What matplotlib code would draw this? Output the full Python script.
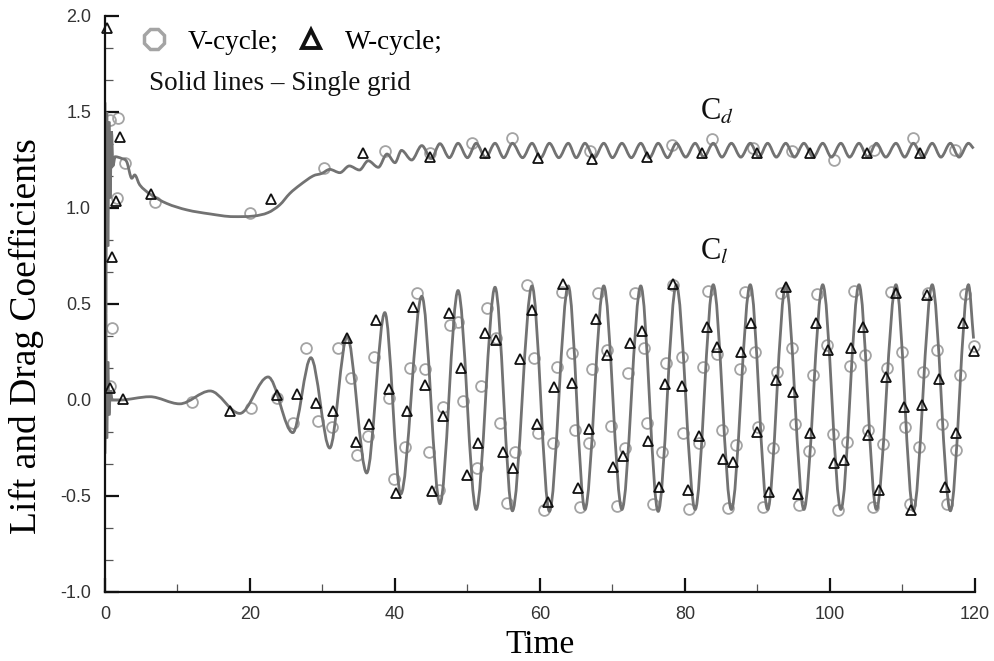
import numpy as np
import matplotlib
matplotlib.use('Agg')
import matplotlib.pyplot as plt
from matplotlib.path import Path
from matplotlib.patches import PathPatch
from matplotlib.lines import Line2D
from matplotlib.ticker import MultipleLocator, AutoMinorLocator

# single grid curves, read at turning points off the picture
cl_t = [0.0, 0.12, 0.25, 0.4, 0.55, 0.75, 1.0, 2.0, 6.2, 10.3, 14.5, 18.6, 22.5, 25.9,
        28.4, 31.0, 33.4, 36.1, 38.6, 40.8, 43.7, 46.2, 48.7, 51.2, 53.8, 56.2, 58.9,
        61.3, 63.9, 66.2, 68.8, 71.3, 73.9, 76.3, 78.8, 81.4, 83.9, 86.4, 89.0, 91.4,
        93.9, 96.4, 99.0, 101.5, 104.0, 106.4, 109.1, 111.5, 114.1, 116.6, 119.1, 119.8]
cl_v = [-0.28, 0.45, -0.2, 0.2, -0.08, 0.05, 0.0, 0.0, 0.017, -0.02, 0.047, -0.07, 0.12, -0.17,
        0.22, -0.25, 0.33, -0.38, 0.455, -0.49, 0.54, -0.54, 0.57, -0.57, 0.587, -0.577, 0.594,
        -0.58, 0.594, -0.57, 0.594, -0.57, 0.594, -0.58, 0.60, -0.57, 0.60, -0.57, 0.60, -0.57,
        0.60, -0.57, 0.60, -0.57, 0.60, -0.57, 0.60, -0.577, 0.60, -0.577, 0.60, 0.32]

cd_t = [0.0, 0.12, 0.25, 0.4, 0.55, 0.7, 0.9, 1.1, 1.4, 2.3, 3.0, 3.7, 4.1, 4.8, 6.2, 8.5,
        11.3, 14.5, 17.7, 20.5, 22.5, 24.1, 25.5, 26.9, 28.7, 29.9, 31.0, 32.4, 33.7, 35.1,
        36.3, 37.7, 38.9, 40.0, 40.9, 42.3, 43.7, 45.0, 46.2, 47.5, 48.7, 50.0, 51.2, 52.5,
        53.8, 55.0, 56.2, 57.6, 58.9, 60.1, 61.3, 62.6, 63.9, 65.0, 66.2, 67.5, 68.8, 70.0,
        71.3, 72.6, 73.9, 75.1, 76.3, 77.6, 78.8, 80.1, 81.4, 82.6, 83.9, 85.1, 86.4, 87.7,
        89.0, 90.2, 91.4, 92.6, 93.9, 95.1, 96.4, 97.7, 99.0, 100.2, 101.5, 102.7, 104.0,
        105.2, 106.4, 107.7, 109.1, 110.3, 111.5, 112.8, 114.1, 115.3, 116.6, 117.8, 119.1, 119.8]
cd_v = [1.55, 0.45, 1.5, 0.8, 1.45, 1.05, 1.4, 1.22, 1.267, 1.258, 1.241, 1.155, 1.172, 1.12,
        1.073, 1.024, 0.99, 0.969, 0.955, 0.958, 0.976, 1.016, 1.076, 1.12, 1.167, 1.18, 1.201,
        1.184, 1.219, 1.198, 1.246, 1.212, 1.281, 1.236, 1.300, 1.250, 1.325, 1.258, 1.335,
        1.262, 1.337, 1.262, 1.337, 1.262, 1.337, 1.262, 1.337, 1.262, 1.337, 1.262, 1.337,
        1.262, 1.337, 1.262, 1.337, 1.262, 1.337, 1.262, 1.337, 1.262, 1.337, 1.262, 1.337,
        1.262, 1.337, 1.265, 1.337, 1.265, 1.337, 1.265, 1.337, 1.265, 1.337, 1.265, 1.337,
        1.265, 1.337, 1.265, 1.337, 1.265, 1.337, 1.265, 1.337, 1.265, 1.337, 1.265, 1.337,
        1.265, 1.337, 1.265, 1.337, 1.265, 1.337, 1.265, 1.337, 1.265, 1.337, 1.31]

# V-cycle samples
v_cl_t = [0.69, 0.92, 11.95, 20.09, 23.68, 25.98, 27.72, 29.42, 31.26, 32.18, 33.88, 34.71,
          36.32, 37.1, 39.13, 39.9, 41.38, 42.07, 42.99, 44.14, 44.74, 46.11, 46.67, 47.59,
          48.74, 49.33, 51.36, 51.82, 52.64, 53.93, 54.48, 55.4, 56.55, 58.16, 59.22, 59.77,
          60.55, 61.84, 62.3, 62.99, 64.37, 64.83, 65.52, 66.8, 67.13, 68.05, 69.2, 69.75,
          70.57, 71.72, 72.18, 73.1, 74.34, 74.81, 75.63, 76.78, 77.38, 78.39, 79.54, 79.77,
          80.6, 81.98, 82.53, 83.22, 84.46, 85.06, 85.98, 87.03, 87.59, 88.28, 89.65, 90.11,
          90.8, 92.09, 92.64, 93.24, 94.71, 95.17, 95.77, 97.15, 97.7, 98.16, 99.54, 100.37,
          101.15, 102.3, 102.76, 103.31, 104.83, 105.29, 105.98, 107.26, 107.82, 108.37,
          109.88, 110.34, 111.03, 112.32, 112.87, 113.56, 114.8, 115.4, 116.09, 117.38,
          117.93, 118.62, 119.86]
v_cl_v = [0.073, 0.373, -0.012, -0.040, 0.009, -0.122, 0.273, -0.108, -0.139, 0.269, 0.113,
          -0.286, -0.188, 0.222, 0.009, -0.411, -0.243, 0.165, 0.559, 0.160, -0.269, -0.469,
          -0.035, 0.391, 0.408, -0.003, -0.356, 0.073, 0.477, 0.321, -0.122, -0.535, -0.269,
          0.599, 0.217, -0.174, -0.573, -0.222, 0.170, 0.564, 0.243, -0.156, -0.556, -0.226,
          0.160, 0.559, 0.260, -0.135, -0.552, -0.252, 0.139, 0.556, 0.269, -0.122, -0.542,
          -0.269, 0.191, 0.599, 0.222, -0.174, -0.566, -0.226, 0.174, 0.569, 0.240, -0.156,
          -0.564, -0.234, 0.160, 0.564, 0.252, -0.139, -0.556, -0.252, 0.148, 0.556, 0.269,
          -0.125, -0.547, -0.264, 0.130, 0.552, 0.286, -0.177, -0.573, -0.217, 0.177, 0.569,
          0.234, -0.156, -0.559, -0.229, 0.165, 0.564, 0.252, -0.139, -0.542, -0.243, 0.148,
          0.556, 0.260, -0.125, -0.542, -0.260, 0.130, 0.552, 0.281]
v_cd_t = [0.69, 1.6, 1.84, 2.76, 6.9, 20.0, 30.2, 38.6, 44.8, 50.6, 56.2, 66.9, 78.2, 83.7,
          89.4, 94.8, 100.5, 106.1, 111.5, 117.3]
v_cd_v = [1.458, 1.05, 1.467, 1.233, 1.033, 0.976, 1.207, 1.299, 1.285, 1.34, 1.363, 1.295,
          1.328, 1.36, 1.31, 1.295, 1.25, 1.30, 1.363, 1.30]

# W-cycle samples
w_cl_t = [0.69, 2.44, 17.24, 23.68, 26.53, 29.10, 31.40, 33.33, 34.62, 36.46, 37.38, 39.13,
          40.14, 41.61, 42.53, 44.14, 45.06, 46.67, 47.49, 49.06, 49.98, 51.49, 52.41, 53.93,
          54.85, 56.32, 57.24, 58.85, 59.54, 61.15, 61.98, 63.13, 64.37, 65.29, 66.80, 67.72,
          69.20, 70.02, 71.49, 72.41, 74.11, 74.94, 76.46, 77.24, 78.39, 79.54, 80.46, 81.98,
          82.99, 84.46, 85.2, 86.67, 87.68, 89.06, 89.98, 91.63, 92.55, 93.93, 94.94, 95.63,
          97.24, 98.07, 99.77, 100.55, 101.93, 102.85, 104.51, 105.29, 106.8, 107.72, 109.1,
          110.2, 111.13, 112.64, 113.43, 115.1, 115.86, 117.38, 118.3, 119.86]
w_cl_v = [0.061, 0.003, -0.057, 0.026, 0.031, -0.017, -0.056, 0.321, -0.220, -0.125, 0.417,
          0.056, -0.486, -0.056, 0.486, 0.078, -0.472, -0.083, 0.455, 0.165, -0.391, -0.226,
          0.351, 0.312, -0.269, -0.356, 0.212, 0.469, -0.127, -0.530, 0.066, 0.604, 0.090,
          -0.460, -0.153, 0.420, 0.234, -0.347, -0.292, 0.295, 0.361, -0.212, -0.451, 0.083,
          0.604, 0.073, -0.469, -0.188, 0.382, 0.278, -0.309, -0.321, 0.252, 0.399, -0.165,
          -0.477, 0.104, 0.587, 0.043, -0.490, -0.174, 0.399, 0.260, -0.326, -0.313, 0.269,
          0.382, -0.182, -0.469, 0.122, 0.556, -0.035, -0.573, -0.026, 0.547, 0.108, -0.451,
          -0.174, 0.403, 0.257]
w_cd_t = [0.3, 0.92, 1.52, 2.07, 6.3, 22.85, 35.6, 44.83, 52.41, 59.77, 67.13, 74.71, 82.3,
          89.9, 97.24, 105.06, 112.41]
w_cd_v = [1.94, 0.746, 1.038, 1.368, 1.071, 1.045, 1.285, 1.267, 1.285, 1.259, 1.254, 1.267,
          1.285, 1.285, 1.285, 1.285, 1.285]


def curve(t, y):
    # smooth bezier path through the read points (flat tangent at turning points)
    t = np.asarray(t, float)
    y = np.asarray(y, float)
    n = len(t)
    m = np.zeros(n)
    for i in range(1, n - 1):
        if (y[i] - y[i - 1]) * (y[i + 1] - y[i]) > 0:
            m[i] = (y[i + 1] - y[i - 1]) / (t[i + 1] - t[i - 1])
    m[-1] = (y[-1] - y[-2]) / (t[-1] - t[-2])
    verts = [(t[0], y[0])]
    codes = [Path.MOVETO]
    for i in range(n - 1):
        h = t[i + 1] - t[i]
        verts += [(t[i] + h / 3, y[i] + m[i] * h / 3),
                  (t[i + 1] - h / 3, y[i + 1] - m[i + 1] * h / 3),
                  (t[i + 1], y[i + 1])]
        codes += [Path.CURVE4] * 3
    return Path(verts, codes)


plt.rcParams['font.family'] = ['Liberation Sans', 'DejaVu Sans']
plt.rcParams['mathtext.fontset'] = 'stix'

fig = plt.figure(figsize=(9.95, 6.61), dpi=100)
ax = fig.add_axes([0.1055, 0.1044, 0.8744, 0.8714])

line_col = '#727272'
for tt, vv in [(cd_t, cd_v), (cl_t, cl_v)]:
    ax.add_patch(PathPatch(curve(tt, vv), fill=False, ec=line_col, lw=2.0, zorder=2))

circ = dict(ls='none', marker='o', ms=7.8, mfc='none', mec='#a4a4a4', mew=1.3, zorder=1.5, clip_on=False)
tri = dict(ls='none', marker='^', ms=6.5, mfc='none', mec='#111111', mew=1.3, zorder=3, clip_on=False)
ax.plot(v_cl_t, v_cl_v, **circ)
ax.plot(v_cd_t, v_cd_v, **circ)
ax.plot(w_cl_t, w_cl_v, **tri)
ax.plot(w_cd_t, w_cd_v, **tri)

ax.set_xlim(0, 120)
ax.set_ylim(-1.0, 2.0)
ax.xaxis.set_major_locator(MultipleLocator(20))
ax.xaxis.set_minor_locator(AutoMinorLocator(2))
ax.yaxis.set_major_locator(MultipleLocator(0.5))
ax.yaxis.set_minor_locator(AutoMinorLocator(3))
ax.yaxis.set_major_formatter(plt.FormatStrFormatter('%.1f'))
for s in ['top', 'right']:
    ax.spines[s].set_visible(False)
for s in ['left', 'bottom']:
    ax.spines[s].set_linewidth(1.6)
    ax.spines[s].set_color('#111111')
ax.tick_params(which='major', direction='in', length=10, width=1.6, labelsize=13,
               colors='#111111', labelcolor='#333333', pad=10)
ax.tick_params(which='minor', direction='in', length=5.5, width=0.9, colors='#555555')

serif = ['Liberation Serif', 'DejaVu Serif']
ax.set_xlabel('Time', family=serif, fontsize=24, labelpad=5)
ax.set_ylabel('Lift and Drag Coefficients', family=serif, fontsize=27)
ax.yaxis.set_label_coords(-0.070, 0.444)

ax.text(82.1, 1.46, r'C$_d$', family=serif, fontsize=22, color='#111111')
ax.text(82.1, 0.73, r'C$_l$', family=serif, fontsize=22, color='#111111')

handles = [Line2D([], [], ls='none', marker='8', ms=15, mfc='none', mec='#a4a4a4', mew=2.5,
                  label='V-cycle;'),
           Line2D([], [], ls='none', marker='^', ms=13, mfc='none', mec='#111111', mew=2.8,
                  label='W-cycle;')]
ax.legend(handles=handles, ncol=2, loc='upper left', bbox_to_anchor=(0.022, 1.0),
          frameon=False, borderpad=0, handlelength=1.2, handletextpad=0.65,
          columnspacing=0.6, prop={'family': serif, 'size': 19.5})
ax.text(0.0506, 0.8715, 'Solid lines \u2013 Single grid', transform=ax.transAxes,
        family=serif, fontsize=19.5, va='baseline', color='#111111')

fig.savefig('out.png', dpi=100)
